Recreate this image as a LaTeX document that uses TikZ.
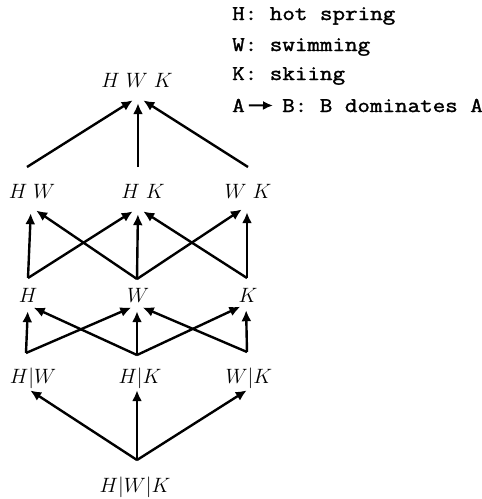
\documentclass[tikz,border=0pt]{standalone}
\usepackage{amsmath}
\usepackage{fontspec}
\setmonofont{Latin Modern Mono}[FakeStretch=1.16,FakeBold=1.6]
\usetikzlibrary{arrows.meta}

\begin{document}
\begin{tikzpicture}[
                x=1pt, y=-1pt,
                lbl/.style={anchor=base,inner sep=0pt,font=\fontsize{20}{24}\selectfont},
                tip/.style={circle,minimum size=12pt,inner sep=0pt},
                key/.style={anchor=base west,inner sep=0pt,font=\fontsize{21}{25}\selectfont\ttfamily}
            ]
                \useasboundingbox (0,0) rectangle (482,499);

                % legend
                \node[key] (kh) at (232,20)  {H: hot spring};
                \node[key] (kw) at (232,51)  {W: swimming};
                \node[key] (kk) at (232,80)  {K: skiing};
                \node[key] (ka) at (232,112) {A};
                \node[key] (kb) at (282,112) {B: B dominates A};

                % labels
                \node[lbl] (hwk)   at (137,87)  {$H\ W\ K$};
                \node[lbl] (hw)    at (32,198)  {$H\ W$};
                \node[lbl] (hk)    at (143,198) {$H\ K$};
                \node[lbl] (wk)    at (248,198) {$W\ K$};
                \node[lbl] (h)     at (28,302)  {$H$};
                \node[lbl] (w)     at (138,302) {$W$};
                \node[lbl] (k)     at (248,302) {$K$};
                \node[lbl] (h-w)   at (33,383)  {$H|W$};
                \node[lbl] (h-k)   at (140,383) {$H|K$};
                \node[lbl] (w-k)   at (249,383) {$W|K$};
                \node[lbl] (h-w-k) at (135,492) {$H|W|K$};

                % arrow ends
                \node[tip] (hwk-in) at (138,97)  {};
                \node[tip] (hw-in)  at (31,207)  {};
                \node[tip] (hk-in)  at (138,208) {};
                \node[tip] (wk-in)  at (247,206) {};
                \node[tip] (h-in)   at (28,305)  {};
                \node[tip] (w-in)   at (137,305) {};
                \node[tip] (k-in)   at (246,304) {};
                \node[tip] (h-w-in) at (25,387)  {};
                \node[tip] (h-k-in) at (137,384) {};
                \node[tip] (w-k-in) at (252,387) {};

                % arrow starts
                \coordinate (hw-out)    at (27,167);
                \coordinate (hk-out)    at (138,167);
                \coordinate (wk-out)    at (248,167);
                \coordinate (h-out)     at (28,278);
                \coordinate (w-out)     at (137,279);
                \coordinate (k-out)     at (247,278);
                \coordinate (h-w-out)   at (26,353);
                \coordinate (h-k-out)   at (137,355);
                \coordinate (w-k-out)   at (247,352);
                \coordinate (h-w-k-out) at (137,460);

                \begin{scope}[line width=2.4pt,-{Latex[length=11pt,width=10pt]}]
                    \draw (h-w-k-out) -- (h-w-in);
                    \draw (h-w-k-out) -- (h-k-in);
                    \draw (h-w-k-out) -- (w-k-in);

                    \draw (h-w-out) -- (h-in);
                    \draw (h-w-out) -- (w-in);
                    \draw (h-k-out) -- (h-in);
                    \draw (h-k-out) -- (w-in);
                    \draw (h-k-out) -- (k-in);
                    \draw (w-k-out) -- (w-in);
                    \draw (w-k-out) -- (k-in);

                    \draw (h-out) -- (hw-in);
                    \draw (h-out) -- (hk-in);
                    \draw (w-out) -- (hw-in);
                    \draw (w-out) -- (hk-in);
                    \draw (w-out) -- (wk-in);
                    \draw (k-out) -- (hk-in);
                    \draw (k-out) -- (wk-in);

                    \draw (hw-out) -- (hwk-in);
                    \draw (hk-out) -- (hwk-in);
                    \draw (wk-out) -- (hwk-in);
                \end{scope}

                \draw[line width=2pt,-{Latex[length=10pt,width=9pt]},shorten <=4pt,shorten >=9pt] (ka.east) -- (kb.west);
            \end{tikzpicture}
\end{document}
